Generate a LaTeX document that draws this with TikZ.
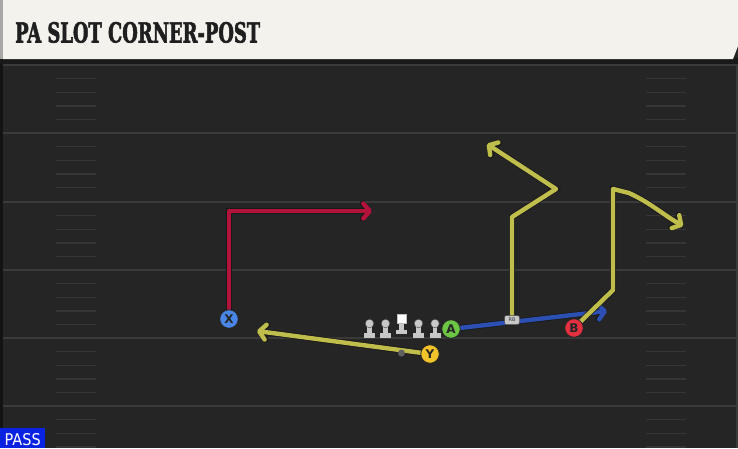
\documentclass[tikz,border=0pt]{standalone}
\usepackage{graphicx}
\usepackage{fontspec}
\setsansfont{DejaVu Sans}
\newfontfamily\titlefont{DejaVu Serif}[BoldFeatures={FakeBold=2.5}]
\newfontfamily\lblfont{DejaVu Sans}
\usetikzlibrary{arrows.meta}
\definecolor{fieldbg}{HTML}{252525}
\definecolor{yardc}{HTML}{3A3A3A}
\definecolor{hashc}{HTML}{363636}
\definecolor{headc}{HTML}{F4F2EC}
\definecolor{redroute}{HTML}{B2133A}
\definecolor{yelroute}{HTML}{BFBE4C}
\definecolor{bluroute}{HTML}{2B4FB2}
\definecolor{xcol}{HTML}{4A86E8}
\definecolor{ycol}{HTML}{F2C22A}
\definecolor{acol}{HTML}{6CC644}
\definecolor{bcol}{HTML}{E2303F}
\definecolor{passc}{HTML}{0A22E2}
\definecolor{olc}{HTML}{C8C8C8}
\tikzset{
  route/.style={line width=4.4pt, line join=round, line cap=round,
    -{Straight Barb[round, length=6.5pt, width=15pt]},
    preaction={draw=black!90, line width=6pt}},
  player/.style={circle, draw=black!85, line width=0.8pt, minimum size=18.5pt,
    inner sep=0pt, font=\lblfont\bfseries\fontsize{12}{12}\selectfont, text=black!85},
  yardline/.style={draw=yardc, line width=2pt},
  hashmark/.style={draw=hashc, line width=1.4pt}
}
\begin{document}
\begin{tikzpicture}[x=1pt,y=-1pt]
\useasboundingbox (0,0) rectangle (738,448);
% field
\fill[fieldbg] (0,0) rectangle (738,448);
\fill[yardc!120] (0,60) rectangle (2.5,448);
\fill[yardc] (735.5,60) rectangle (738,448);
% yard lines
\foreach \y in {65,133,202,270,338,406} {\draw[yardline] (2.5,\y) -- (738,\y);}
% hash marks
\foreach \b in {65,133,202,270,338,406} {
  \foreach \k in {1,2,3,4} {
    \pgfmathsetmacro{\yy}{\b+13.6*\k}
    \draw[hashmark] (56,\yy) -- (96,\yy);
    \draw[hashmark] (646,\yy) -- (686,\yy);
  }
}
% header
\fill[black!90] (0,58) rectangle (738,63.5);
\fill[gray!70] (0,0) rectangle (3,59);
\fill[headc] (3,0) -- (738,0) -- (738,46) -- (733,59) -- (3,59) -- cycle;
\node[anchor=base west, inner sep=0pt, text=black!88] (title) at (15,42.5)
  {\resizebox{245pt}{20.5pt}{\titlefont\bfseries PA SLOT CORNER-POST}};
% positions
\coordinate (pX) at (229,319);
\coordinate (pY) at (430,354);
\coordinate (pA) at (451,329);
\coordinate (pB) at (574,328);
\coordinate (pRB) at (512,320);
\coordinate (xc) at (229,211);
\coordinate (xe) at (372,211);
\coordinate (ye) at (257,331);
\coordinate (ae) at (607,311);
\coordinate (r1) at (512,217);
\coordinate (r2) at (556,189);
\coordinate (re) at (487,144);
\coordinate (b1) at (613,290);
\coordinate (b2) at (613,189);
\coordinate (b3) at (629,193);
\coordinate (be) at (683,226);
% routes
\draw[route, redroute] (pX) -- (xc) -- (xe);
\draw[route, bluroute] (pA) -- (ae);
\draw[route, yelroute] (pY) -- (ye);
\draw[route, yelroute] (pRB) -- (r1) -- (r2) -- (re);
\draw[route, yelroute] (pB) -- (b1) -- (b2) -- (b3) to[out=-25,in=150] (be);
% QB dot
\node[circle, fill=gray!75!black, minimum size=7pt, inner sep=0pt] (qb) at (401.5,353) {};
% offensive line
\foreach \x/\n in {369.5/l1,385.5/l2,418.5/l4,435/l5} {
  \fill[olc] (\x-5.5,337.5) rectangle (\x+5.5,333);
  \fill[olc] (\x-2.3,334) rectangle (\x+2.3,325);
  \node[circle, fill=olc, draw=gray!60!black, line width=0.4pt, minimum size=8.5pt, inner sep=0pt] (\n) at (\x,323.5) {};
}
\fill[olc] (396,334) rectangle (407,329.5);
\fill[olc] (399.2,330) rectangle (403.8,322);
\node[rectangle, fill=white, draw=gray!50, line width=0.4pt, minimum size=9pt, inner sep=0pt] (ctr) at (401.5,318.5) {};
% players
\node[player, fill=xcol] (X) at (pX) {X};
\node[player, fill=ycol] (Y) at (pY) {Y};
\node[player, fill=acol] (A) at (pA) {A};
\node[player, fill=bcol] (B) at (pB) {B};
\node[rectangle, rounded corners=2pt, fill=olc, draw=black!70, line width=0.5pt,
  minimum width=15pt, minimum height=9pt, inner sep=0pt,
  font=\lblfont\fontsize{5}{5}\selectfont, text=black!80] (RB) at (pRB) {RB};
% PASS label
\fill[passc] (0,428) rectangle (45,448);
\node[anchor=base west, inner sep=0pt, text=white] (pass) at (4.5,445)
  {\resizebox{36pt}{12pt}{\sffamily PASS}};
\end{tikzpicture}
\end{document}
